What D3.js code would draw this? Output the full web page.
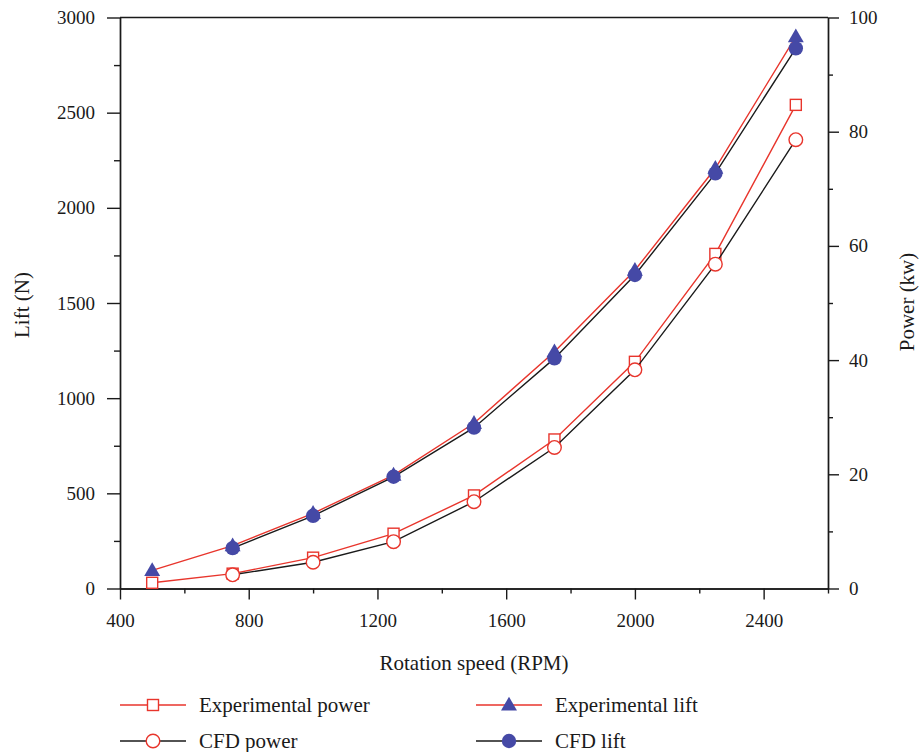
<!DOCTYPE html>
<html>
<head>
<meta charset="utf-8">
<script src="https://cdn.jsdelivr.net/npm/d3@7"></script>
<style>
  html, body { margin: 0; padding: 0; background: #fff; }
  svg { display: block; }
  text { font-family: "Liberation Serif", "DejaVu Serif", serif; fill: #1a1a1a; }
</style>
</head>
<body>
<svg id="chart" width="919" height="752"></svg>
<script>
// Rotation speeds (RPM)
const speeds = [500, 750, 1000, 1250, 1500, 1750, 2000, 2250, 2500];
const cfdSpeeds = [750, 1000, 1250, 1500, 1750, 2000, 2250, 2500];

// Lift (N), left axis
const expLift = [95, 225, 395, 596, 868, 1244, 1672, 2208, 2899];
const cfdLift = [212, 382, 587, 845, 1209, 1647, 2181, 2838];

// Power (kw), right axis
const expPower = [1.0, 2.6, 5.4, 9.6, 16.3, 26.1, 39.7, 58.6, 84.7];
const cfdPower = [2.4, 4.6, 8.2, 15.2, 24.7, 38.3, 56.8, 78.6];

// Axis ticks
const xMajor = [400, 800, 1200, 1600, 2000, 2400];
const xMinor = [600, 1000, 1400, 1800, 2200, 2600];
const liftMajor = [0, 500, 1000, 1500, 2000, 2500, 3000];
const liftMinor = [250, 750, 1250, 1750, 2250, 2750];
const powerMajor = [0, 20, 40, 60, 80, 100];
const powerMinor = [10, 30, 50, 70, 90];

const RED = "#e8352c";
const BLUE = "#4549a6";
const BLACK = "#1a1a1a";

const svg = d3.select("#chart");
const plotLeft = 120, plotRight = 828, plotTop = 17.5, plotBottom = 588.5;

const x = d3.scaleLinear().domain([400, 2600]).range([plotLeft, plotRight]);
const yL = d3.scaleLinear().domain([0, 3000]).range([plotBottom, plotTop]);
const yR = d3.scaleLinear().domain([0, 100]).range([plotBottom, plotTop]);
const fmt = d3.format("d");

function styleAxis(g) {
  g.select(".domain").attr("stroke", BLACK).attr("stroke-width", 1.4);
  g.selectAll(".tick line").attr("stroke", BLACK).attr("stroke-width", 1.4);
  g.selectAll("text").attr("font-size", 19).attr("fill", BLACK)
    .style("font-family", '"Liberation Serif", "DejaVu Serif", serif');
}

// Top frame line
svg.append("line")
  .attr("x1", plotLeft).attr("x2", plotRight).attr("y1", plotTop).attr("y2", plotTop)
  .attr("stroke", BLACK).attr("stroke-width", 1.4);

// Bottom axis
svg.append("g").attr("transform", `translate(0,${plotBottom})`)
  .call(d3.axisBottom(x).tickValues(xMinor).tickSize(5).tickFormat("").tickSizeOuter(0))
  .call(styleAxis);
svg.append("g").attr("transform", `translate(0,${plotBottom})`)
  .call(d3.axisBottom(x).tickValues(xMajor).tickSize(11).tickPadding(14).tickFormat(fmt).tickSizeOuter(0))
  .call(styleAxis);

// Left axis (lift)
svg.append("g").attr("transform", `translate(${plotLeft},0)`)
  .call(d3.axisLeft(yL).tickValues(liftMinor).tickSize(6).tickFormat("").tickSizeOuter(0))
  .call(styleAxis);
svg.append("g").attr("transform", `translate(${plotLeft},0)`)
  .call(d3.axisLeft(yL).tickValues(liftMajor).tickSize(13).tickPadding(12).tickFormat(fmt).tickSizeOuter(0))
  .call(styleAxis);

// Right axis (power)
svg.append("g").attr("transform", `translate(${plotRight},0)`)
  .call(d3.axisRight(yR).tickValues(powerMinor).tickSize(5).tickFormat("").tickSizeOuter(0))
  .call(styleAxis);
svg.append("g").attr("transform", `translate(${plotRight},0)`)
  .call(d3.axisRight(yR).tickValues(powerMajor).tickSize(11).tickPadding(10).tickFormat(fmt).tickSizeOuter(0))
  .call(styleAxis);

// Axis titles
svg.append("text")
  .attr("x", 474).attr("y", 663).attr("text-anchor", "middle")
  .attr("font-size", 21).attr("dy", "0.35em").text("Rotation speed (RPM)");
svg.append("text")
  .attr("transform", "translate(22,305) rotate(-90)")
  .attr("text-anchor", "middle").attr("dy", "0.35em")
  .attr("font-size", 21).text("Lift (N)");
svg.append("text")
  .attr("transform", "translate(907,302) rotate(-90)")
  .attr("text-anchor", "middle").attr("dy", "0.35em")
  .attr("font-size", 21).text("Power (kw)");

const triangle = d3.symbol().type(d3.symbolTriangle).size(110);

function drawSeries(xs, ys, yScale, lineColor, marker) {
  const pts = xs.map((v, i) => [x(v), yScale(ys[i])]);
  svg.append("path")
    .attr("d", d3.line()(pts))
    .attr("fill", "none").attr("stroke", lineColor).attr("stroke-width", 1.4);
  const g = svg.append("g");
  pts.forEach(p => marker(g, p[0], p[1]));
}

const squareMarker = (g, cx, cy) => g.append("rect")
  .attr("x", cx - 5.5).attr("y", cy - 5.5).attr("width", 11).attr("height", 11)
  .attr("fill", "#fff").attr("stroke", RED).attr("stroke-width", 1.4);
const triMarker = (g, cx, cy) => g.append("path")
  .attr("d", triangle).attr("transform", `translate(${cx},${cy + 1})`)
  .attr("fill", BLUE);
const openCircle = (g, cx, cy) => g.append("circle")
  .attr("cx", cx).attr("cy", cy).attr("r", 6.8)
  .attr("fill", "#fff").attr("stroke", RED).attr("stroke-width", 1.4);
const filledCircle = (g, cx, cy) => g.append("circle")
  .attr("cx", cx).attr("cy", cy).attr("r", 7.2).attr("fill", BLUE);

drawSeries(speeds, expPower, yR, RED, squareMarker);
drawSeries(cfdSpeeds, cfdPower, yR, BLACK, openCircle);
drawSeries(speeds, expLift, yL, RED, triMarker);
drawSeries(cfdSpeeds, cfdLift, yL, BLACK, filledCircle);

// Legend
const legendItems = [
  { label: "Experimental power", color: RED, marker: squareMarker, lx: 120, ly: 705 },
  { label: "CFD power", color: BLACK, marker: openCircle, lx: 120, ly: 741 },
  { label: "Experimental lift", color: RED, marker: triMarker, lx: 476, ly: 705 },
  { label: "CFD lift", color: BLACK, marker: filledCircle, lx: 476, ly: 741 }
];
const lg = svg.append("g");
legendItems.forEach(d => {
  lg.append("line")
    .attr("x1", d.lx).attr("x2", d.lx + 66).attr("y1", d.ly).attr("y2", d.ly)
    .attr("stroke", d.color).attr("stroke-width", 1.4);
  d.marker(lg, d.lx + 33, d.ly);
  lg.append("text")
    .attr("x", d.lx + 79).attr("y", d.ly).attr("dy", "0.33em")
    .attr("font-size", 21).text(d.label);
});
</script>
</body>
</html>
